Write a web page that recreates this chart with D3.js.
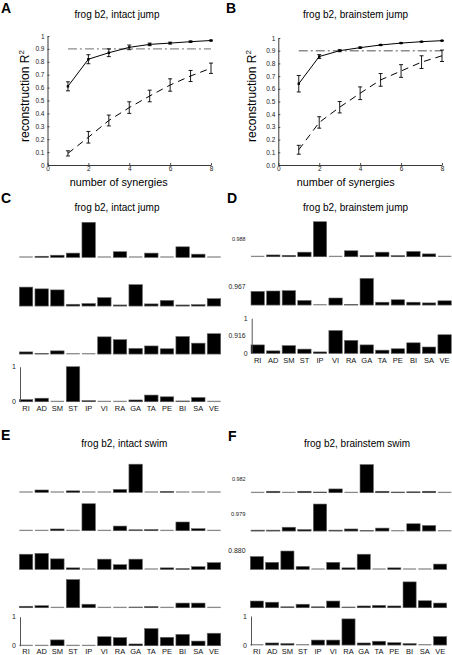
<!DOCTYPE html>
<html><head><meta charset="utf-8">
<script src="https://cdn.jsdelivr.net/npm/d3@7/dist/d3.min.js"></script>
<style>
html,body{margin:0;padding:0;background:#fff;}
svg{display:block;font-family:"Liberation Sans",Arial,Helvetica,sans-serif;}
</style></head>
<body>
<svg id="chart" width="452" height="655"></svg>
<script>
// ---------- DATA ----------
const nSynergies = [1, 2, 3, 4, 5, 6, 7, 8];
const intactJumpMean = [0.61, 0.82, 0.87, 0.912, 0.935, 0.945, 0.956, 0.965];
const intactJumpErr  = [0.035, 0.035, 0.03, 0.018, 0.01, 0.007, 0.005, 0.003];
const intactJumpShufMean = [0.09, 0.215, 0.345, 0.445, 0.535, 0.62, 0.69, 0.75];
const intactJumpShufErr  = [0.02, 0.045, 0.042, 0.045, 0.045, 0.048, 0.043, 0.04];
const brainJumpMean = [0.64, 0.854, 0.90, 0.924, 0.945, 0.96, 0.971, 0.979];
const brainJumpErr  = [0.065, 0.015, 0.008, 0.005, 0.004, 0.003, 0.002, 0.002];
const brainJumpShufMean = [0.12, 0.335, 0.455, 0.565, 0.67, 0.74, 0.81, 0.86];
const brainJumpShufErr  = [0.035, 0.045, 0.045, 0.05, 0.05, 0.05, 0.05, 0.045];
const threshold = 0.9;
const xTicks = [0, 2, 4, 6, 8];
const yTicks = [0, 0.1, 0.2, 0.3, 0.4, 0.5, 0.6, 0.7, 0.8, 0.9, 1];

const muscles = ["RI","AD","SM","ST","IP","VI","RA","GA","TA","PE","BI","SA","VE"];

const intactJumpW1 = [0, 0.03, 0.06, 0.12, 1.0, 0, 0.16, 0, 0.12, 0, 0.30, 0.09, 0];
const intactJumpW2 = [0.54, 0.49, 0.46, 0.05, 0.07, 0.24, 0.03, 0.61, 0.06, 0.16, 0.03, 0.04, 0.21];
const intactJumpW3 = [0.06, 0.02, 0.09, 0.01, 0.01, 0.49, 0.41, 0.16, 0.23, 0.15, 0.50, 0.31, 0.58];
const intactJumpW4 = [0.06, 0.10, 0.01, 1.0, 0.03, 0, 0, 0.05, 0.19, 0.14, 0.02, 0.12, 0];

const brainJumpW1 = [0, 0.05, 0.04, 0.13, 1.0, 0, 0.17, 0.03, 0.13, 0.03, 0.15, 0.08, 0];
const brainJumpW2 = [0.39, 0.40, 0.41, 0.13, 0.01, 0.20, 0.02, 0.76, 0.08, 0.15, 0.08, 0.06, 0.12];
const brainJumpW3 = [0.24, 0.07, 0.22, 0.12, 0.04, 0.65, 0.37, 0.24, 0.09, 0.13, 0.30, 0.18, 0.53];
const brainJumpLabels = ["0.988", "0.967", "0.916"];

const intactSwimW1 = [0, 0.08, 0, 0.05, 0, 0, 0.10, 0.97, 0, 0.03, 0, 0, 0];
const intactSwimW2 = [0, 0, 0.06, 0, 0.93, 0, 0.16, 0.03, 0.04, 0, 0.30, 0.07, 0];
const intactSwimW3 = [0.52, 0.55, 0.36, 0.05, 0.01, 0.35, 0.16, 0.35, 0.01, 0.05, 0.02, 0.09, 0.23];
const intactSwimW4 = [0.05, 0.07, 0.01, 0.97, 0.12, 0.01, 0.01, 0.02, 0.04, 0.01, 0.16, 0.16, 0.01];
const intactSwimW5 = [0.01, 0.01, 0.20, 0, 0.01, 0.31, 0.28, 0.06, 0.59, 0.29, 0.39, 0.16, 0.43];

const brainSwimW1 = [0, 0.05, 0, 0.05, 0.02, 0.13, 0, 0.97, 0.05, 0.02, 0.03, 0.05, 0];
const brainSwimW2 = [0.03, 0.03, 0.13, 0.05, 0.93, 0.03, 0.07, 0.02, 0.10, 0, 0.25, 0.19, 0];
const brainSwimW3 = [0.44, 0.24, 0.63, 0.10, 0.01, 0.24, 0.05, 0.52, 0.01, 0.05, 0.01, 0.01, 0.18];
const brainSwimW4 = [0.23, 0.19, 0.03, 0.12, 0.03, 0.23, 0.02, 0.06, 0.08, 0.06, 0.89, 0.24, 0.16];
const brainSwimW5 = [0, 0.07, 0.05, 0, 0.17, 0.17, 0.90, 0.07, 0.13, 0.08, 0.05, 0, 0.29];
const brainSwimLabels = ["0.982", "0.979", "0.880"];

// ---------- DRAWING ----------
const svg = d3.select("#chart");
const FONT = '"Liberation Sans",Arial,Helvetica,sans-serif';

function letter(t, x, y) {
  svg.append("text").attr("x", x).attr("y", y).attr("font-size", 14)
    .attr("font-weight", "bold").attr("fill", "#000").text(t);
}
function title(t, cx, y) {
  svg.append("text").attr("x", cx).attr("y", y).attr("font-size", 10)
    .attr("text-anchor", "middle").attr("fill", "#000").text(t);
}

// Line chart panel
function linePanel(opt) {
  const g = svg.append("g");
  const x = d3.scaleLinear().domain([0, 8]).range([opt.x0, opt.x1]);
  const y = d3.scaleLinear().domain([0, 1]).range([opt.y0, opt.y1]);

  const xa = g.append("g").attr("transform", `translate(0,${opt.y0})`)
    .call(d3.axisBottom(x).tickValues(xTicks).tickSize(-2).tickSizeOuter(0).tickPadding(3));
  const ya = g.append("g").attr("transform", `translate(${opt.x0},0)`)
    .call(d3.axisLeft(y).tickValues(yTicks).tickSize(-2).tickSizeOuter(0).tickPadding(3)
      .tickFormat(opt.fmt));
  [xa, ya].forEach(a => {
    a.selectAll("path").attr("stroke", "#222").attr("stroke-width", 0.9);
    a.selectAll("line").attr("stroke", "#222").attr("stroke-width", 0.8);
    a.selectAll("text").attr("font-size", 6.5).attr("fill", "#222").attr("font-family", FONT);
  });
  xa.selectAll("text").attr("dy", "0.5em");

  // threshold dash-dot
  g.append("line").attr("x1", x(1)).attr("x2", x(8)).attr("y1", y(threshold)).attr("y2", y(threshold))
    .attr("stroke", "#8c8c8c").attr("stroke-width", 1.4).attr("stroke-dasharray", "9,3,2,3");

  function series(mean, err, dashed, markers) {
    const pts = nSynergies.map((n, i) => ({n, m: mean[i], e: err[i]}));
    const line = d3.line().x(d => x(d.n)).y(d => y(d.m));
    g.append("path").datum(pts).attr("d", line).attr("fill", "none")
      .attr("stroke", "#000").attr("stroke-width", 1)
      .attr("stroke-dasharray", dashed ? "7,5" : null);
    const eb = g.append("g").selectAll("g").data(pts).join("g");
    eb.append("line").attr("x1", d => x(d.n)).attr("x2", d => x(d.n))
      .attr("y1", d => y(d.m - d.e)).attr("y2", d => y(d.m + d.e))
      .attr("stroke", "#000").attr("stroke-width", 0.9);
    [-1, 1].forEach(s => {
      eb.append("line").attr("x1", d => x(d.n) - 2).attr("x2", d => x(d.n) + 2)
        .attr("y1", d => y(d.m + s * d.e)).attr("y2", d => y(d.m + s * d.e))
        .attr("stroke", "#000").attr("stroke-width", 0.9);
    });
    if (markers) {
      g.append("g").selectAll("rect").data(pts).join("rect")
        .attr("x", d => x(d.n) - 1.2).attr("y", d => y(d.m) - 1.2)
        .attr("width", 2.4).attr("height", 2.4).attr("fill", "#000");
    }
  }
  series(opt.shufMean, opt.shufErr, true, false);
  series(opt.mean, opt.err, false, true);

  // axis labels
  svg.append("text").attr("transform", `translate(${opt.ylabX},${opt.ylabY}) rotate(-90)`)
    .attr("text-anchor", "middle").attr("font-size", 12).attr("fill", "#000")
    .html('reconstruction R<tspan dy="-5" font-size="8">2</tspan>');
  svg.append("text").attr("x", opt.xlabX).attr("y", opt.xlabY).attr("text-anchor", "middle")
    .attr("font-size", 10.8).attr("fill", "#000").text("number of synergies");
}

linePanel({x0: 47.5, x1: 211, y0: 165, y1: 36,
  mean: intactJumpMean, err: intactJumpErr, shufMean: intactJumpShufMean, shufErr: intactJumpShufErr,
  fmt: v => v === 0 ? "0" : v === 1 ? "1" : d3.format(".1f")(v),
  ylabX: 29, ylabY: 96, xlabX: 118.7, xlabY: 185.5});
linePanel({x0: 278.3, x1: 442, y0: 165, y1: 38,
  mean: brainJumpMean, err: brainJumpErr, shufMean: brainJumpShufMean, shufErr: brainJumpShufErr,
  fmt: v => v === 1 ? "1" : d3.format(".1f")(v),
  ylabX: 256, ylabY: 96, xlabX: 345.7, xlabY: 185.5});

letter("A", 1, 13); title("frog b2, intact jump", 117, 18);
letter("B", 226, 13); title("frog b2, brainstem jump", 355.5, 18);

// Bar panels
function barPanel(opt) {
  const g = svg.append("g");
  opt.rows.forEach((vals, r) => {
    const xr = opt.xRanges[Math.min(r, opt.xRanges.length - 1)];
    const x = d3.scaleBand().domain(muscles).range(xr).paddingInner(0.14).paddingOuter(0);
    const base = opt.baselines[r];
    const y = d3.scaleLinear().domain([0, 1]).range([base, base - opt.scale]);
    const data = muscles.map((m, i) => ({m, v: vals[i]}));
    const rg = g.append("g");
    rg.selectAll("line.base").data(data).join("line")
      .attr("x1", d => x(d.m)).attr("x2", d => x(d.m) + x.bandwidth())
      .attr("y1", base - 0.3).attr("y2", base - 0.3)
      .attr("stroke", "#8a8a8a").attr("stroke-width", 1.3);
    rg.selectAll("rect").data(data.filter(d => d.v > 0.015)).join("rect")
      .attr("x", d => x(d.m)).attr("width", x.bandwidth())
      .attr("y", d => y(d.v)).attr("height", d => base - y(d.v))
      .attr("fill", "#000").attr("stroke", "#6a6a6a").attr("stroke-width", 0.6);
    if (opt.labels && opt.labels[r]) {
      g.append("text").attr("x", 245.5).attr("y", base - opt.labelOff[r])
        .attr("dy", "0.35em").attr("text-anchor", "end")
        .attr("font-size", opt.labelSize[r]).attr("fill", "#222").text(opt.labels[r]);
    }
    if (r === opt.rows.length - 1) {
      const ax = g.append("g").attr("transform", `translate(${xr[0] + 0.7},0)`)
        .call(d3.axisLeft(y).tickValues([0, 1]).tickSize(0).tickPadding(4).tickFormat(d3.format("d")));
      ax.selectAll("path").attr("stroke", "#555").attr("stroke-width", 1);
      ax.selectAll("text").attr("font-size", 7).attr("fill", "#222").attr("font-family", FONT);
      if (opt.hideAxisText) ax.selectAll("text").filter(d => d === 0.5).remove();
      g.append("g").selectAll("text").data(muscles).join("text")
        .attr("x", d => x(d) + x.bandwidth() / 2).attr("y", opt.catY)
        .attr("text-anchor", "middle").attr("font-size", 7.5).attr("fill", "#111").text(d => d);
    }
  });
}

barPanel({rows: [intactJumpW1, intactJumpW2, intactJumpW3, intactJumpW4],
  xRanges: [[19.3, 220.7]], baselines: [257.3, 306, 354, 401.7], scale: 35, catY: 410.5});
barPanel({rows: [brainJumpW1, brainJumpW2, brainJumpW3],
  xRanges: [[251, 451.3]], baselines: [256.7, 305, 353.3], scale: 35, catY: 362.5,
  labels: brainJumpLabels, labelOff: [17.5, 18.5, 17.8], labelSize: [5.4, 6.8, 6.8]});
barPanel({rows: [intactSwimW1, intactSwimW2, intactSwimW3, intactSwimW4, intactSwimW5],
  xRanges: [[19.3, 220.7]], baselines: [492.3, 530.7, 569.3, 607.7, 645.7], scale: 29, catY: 654.3});
barPanel({rows: [brainSwimW1, brainSwimW2, brainSwimW3, brainSwimW4, brainSwimW5],
  xRanges: [[251, 451.3], [251, 451.3], [250.3, 446.7]], baselines: [492.7, 531, 569.3, 607.7, 645], scale: 29, catY: 653.5,
  labels: brainSwimLabels, labelOff: [13.4, 16.7, 18.6], labelSize: [5.4, 5.8, 6.9]});

letter("C", 1, 203); title("frog b2, intact jump", 117, 210.5);
letter("D", 227, 203); title("frog b2, brainstem jump", 355.5, 210.5);
letter("E", 1, 440); title("frog b2, intact swim", 124.3, 447);
letter("F", 228, 440.5); title("frog b2, brainstem swim", 357, 447);
</script>
</body></html>
